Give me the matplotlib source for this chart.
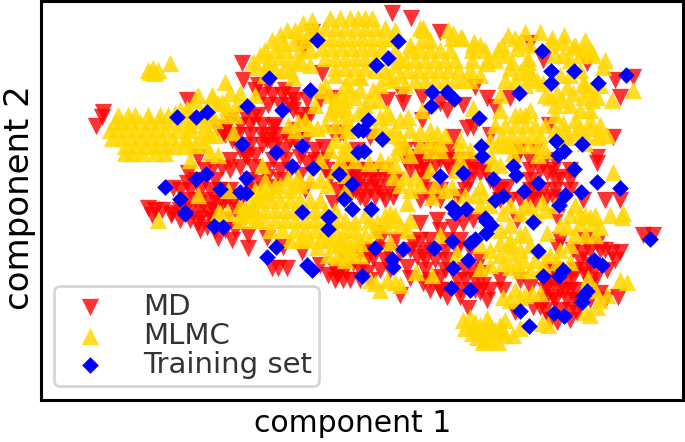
import matplotlib
matplotlib.use("Agg")
import matplotlib.pyplot as plt

plt.rcParams['font.family'] = ['DejaVu Sans']

x_label = "component 1"
y_label = "component 2"
series_names = ["MD", "MLMC", "Training set"]

md_points = [
(103,112),(102,117),(96,126),(242,63),(243,80),(187,100),(322,73),(303,48),(312,32),
(258,85),(268,85),(262,95),(272,95),(282,95),(292,95),(268,105),(280,105),(290,105),
(245,115),(258,115),(300,115),(310,115),(240,125),(250,125),(262,125),(275,125),
(225,135),(238,135),(250,135),(262,135),(272,135),(285,135),(250,145),(262,145),(272,145),(245,155),(255,155),
(223,133),(217,128),(230,120),(253,117),(273,127),(267,140),(290,140),(293,110),(320,100),(333,98),(307,100),
(247,157),(240,167),(253,167),(273,160),(280,170),(267,177),(273,187),(260,183),(300,157),(307,163),(323,147),(333,133),(340,133),
(330,177),(350,170),(337,190),(333,203),(213,167),(222,168),(188,173),(198,157),(187,183),(173,188),(180,190),(210,190),(210,203),
(230,197),(237,207),(222,203),(200,210),(148,208),(155,210),(172,213),(162,210),(208,213),
(152,215),(171,215),(198,223),(207,227),(218,238),(232,240),(248,235),(248,248),(213,220),(200,218),(267,238),(283,247),(272,268),(278,268),(287,268),(302,252),
(328,275),(337,275),(320,265),(343,280),(350,280),(367,273),(380,270),(373,258),(340,270),(353,263),(400,295),(410,278),(417,257),(423,283),(430,290),(440,290),
(447,297),(460,290),(460,297),(483,285),(487,300),(480,292),(468,308),(503,290),(515,312),(533,307),(540,307),(553,283),(560,290),(567,300),(553,297),(547,287),
(557,322),(577,313),(567,280),(573,277),(600,293),(605,300),(618,297),(612,253),(620,252),(607,270),(597,243),(583,253),(573,250),(557,247),(643,235),(653,235),
(423,253),(413,243),(430,250),(453,227),(463,223),(457,250),(440,230),(473,220),(557,217),(517,220),(380,233),(420,223),(437,220),(457,280),(473,270),(483,273),
(440,277),(530,287),(520,280),(500,280),(368,257),(407,267),(400,253),(387,250),(360,253),(392,13),(411,18),(440,32),(387,100),(402,95),(403,103),(422,97),(440,103),
(447,110),(463,105),(475,87),(487,98),(495,107),(510,98),(422,120),(467,128),(473,127),(490,135),(453,137),(530,43),(543,60),(587,63),(615,80),(633,77),(620,97),
(549,125),(613,137),(597,157),(597,163),(553,170),(547,173),(560,177),(620,200),(543,190),(553,197),(583,200),(357,177),(370,177),(363,187),(377,187),(383,193),(360,197),
(375,197),(393,197),(413,157),(427,157),(440,160),(447,163),(450,150),(473,163),(473,170),(417,163),(497,190),(507,187),(520,200),(537,190),(517,157),(530,160),(543,163),
(343,133),(370,137),(357,150),(480,173),(440,200),(457,197),(420,200),(343,183),(350,195),(345,165),(300,175),(305,190),(410,160),(425,170),(435,165),(460,170),(465,180),
(590,265),(585,275),(575,290),(565,290),(555,270),(545,300),(590,285),(580,305),(570,310),
(255,90),(285,90),(295,100),(305,120),(225,130),(295,130),
(232,140),(278,140),(295,140),(305,140),(240,150),(285,150),(300,150),(315,150),
(230,160),(285,160),(315,160),(325,160),(205,170),(230,170),(265,170),(290,170),(325,170),(340,170),
(195,180),(205,180),(215,180),(250,180),(280,180),(345,180),(190,190),(200,190),(220,190),(230,190),(250,190),(345,190),(355,190),
(190,200),(200,200),(215,200),(225,200),(240,200),(180,210),(190,210),(215,210),(235,210),(180,220),(190,220),(215,220),(225,220),
(200,230),(215,230),(225,230),(235,230),
(355,170),(365,170),(375,170),(385,170),(350,180),(360,180),(375,180),(385,180),(395,180),(350,190),(370,190),(395,190),(365,200),(385,200),
(405,150),(420,150),(435,150),(405,160),(420,160),(455,160),(465,160),(410,170),(420,170),(450,170),(465,170),(485,170),(425,180),(470,180),(490,180),
(430,190),(440,190),(465,190),(500,190),(430,200),(500,200),(510,200),(530,200),
(380,240),(395,240),(420,240),(430,240),(445,240),(460,240),(365,250),(375,250),(410,250),(445,250),(470,250),
(345,260),(355,260),(385,260),(425,260),(435,260),(445,260),(480,260),(335,270),(345,270),(360,270),(390,270),(425,270),(445,270),(465,270),
(335,280),(360,280),(370,280),(430,280),(465,280),(475,280),(440,290),(475,290),(490,290),
(550,270),(575,270),(585,270),(595,270),(545,280),(558,280),(595,280),(545,290),(570,290),(555,300),(575,300),(590,300),(560,310),(545,310),(550,320),(570,320),
(560,240),(585,240),(590,250),(600,250),(605,250),(580,260),(615,260),
(530,170),(540,170),(570,170),(530,180),(555,180),(570,180),(530,190),(555,190),(570,190),(535,200),(545,200),(560,200),(605,200),(520,150),(535,150),(555,160),
]

mlmc_points = [
(148,70),(153,68),(158,70),(150,72),(155,73),(170,63),
(118,115),(128,115),(135,115),(148,115),(160,115),(168,115),
(115,122),(122,122),(130,122),(140,122),(150,122),(160,122),(172,122),(185,122),
(110,130),(118,130),(125,130),(135,130),(145,130),(155,130),(165,130),(178,130),(190,130),
(112,138),(122,138),(132,138),(142,138),(152,138),(162,138),(172,138),(185,138),(200,138),
(125,146),(135,146),(145,146),(155,146),(165,146),(175,146),(185,146),
(125,153),(132,153),(142,153),(155,153),(165,153),
(208,132),(205,125),(210,115),(188,110),(195,100),(218,103),(212,95),
(225,82),(198,95),(212,98),(222,102),(230,93),(240,93),(227,107),(255,95),(237,103),(187,108),(175,113),(208,135),(187,140),(210,153),(218,155),(190,160),(233,132),
(288,125),(298,122),(310,128),(317,128),(330,113),(345,100),(325,85),(260,55),(253,62),(267,63),(257,67),(272,40),(287,30),(283,43),(293,43),(303,23),(312,20),
(280,57),(290,60),(297,63),(283,70),(293,77),
(330,18),(340,18),(350,18),(358,18),(365,18),(372,18),
(325,28),(335,28),(345,28),(355,28),(365,28),(375,28),(385,28),
(322,38),(332,38),(342,38),(352,38),(362,38),(372,38),(382,38),(392,38),
(322,48),(332,48),(342,48),(352,48),(362,48),(372,48),(382,48),
(325,58),(335,58),(345,58),(355,58),(365,58),(375,58),
(335,68),(345,68),(355,68),(365,68),(350,77),(360,77),
(422,40),(430,40),(412,50),(420,50),(430,50),(440,50),(450,50),
(405,60),(415,60),(425,60),(435,60),(445,60),(455,60),
(408,70),(418,70),(428,70),(438,70),(448,70),(458,70),
(415,80),(425,80),(435,80),(445,80),(455,80),(463,80),
(420,28),(423,30),(448,30),(452,38),(461,37),(474,42),(480,45),(472,50),(485,50),(487,60),(508,35),(502,45),(515,38),(520,42),(525,32),(540,32),(517,48),(530,45),(498,50),
(510,68),(520,72),(512,62),(528,58),(528,68),(529,72),(551,42),(564,35),(575,45),(585,40),(563,55),(580,55),(590,50),(592,55),(605,60),(585,85),
(603,67),(612,100),(633,90),(592,52),(583,50),(573,47),(563,42),(552,38),(537,80),(532,77),(543,83),(550,97),(562,100),(573,93),(583,97),(592,100),(597,97),(583,83),(557,93),(567,87),(580,110),
(515,115),(520,115),(525,115),(505,125),(515,125),(525,125),(535,125),(502,135),(512,135),(522,135),(532,135),(540,135),(498,145),(508,145),(518,145),(528,145),(538,145),(545,150),(538,155),
(563,123),(580,127),(590,128),(600,125),(607,135),(575,133),(585,135),(567,137),(597,137),(613,172),(623,213),(622,217),
(437,133),(430,140),(440,143),(420,132),(400,137),(398,147),(397,153),(387,112),(380,117),(390,117),(383,127),(408,117),(422,110),(473,108),(500,95),(528,62),
(460,150),(460,160),(369,163),(388,163),(393,177),(405,177),(415,178),(430,170),(452,187),(480,187),(483,195),(492,163),(503,145),(513,153),(407,203),(432,197),(390,213),
(503,213),(520,213),(530,207),(542,202),(580,213),(590,217),(347,153),(350,127),(358,113),(350,90),(360,77),(387,77),(393,80),(373,90),(472,60),(487,63),(462,38),(453,33),(423,28),(473,45),
(262,190),(275,190),(290,190),(345,190),
(250,200),(260,200),(270,200),(280,200),(290,200),(300,200),(310,200),(320,200),
(245,210),(255,210),(265,210),(275,210),(285,210),(295,210),(305,210),(315,210),(325,210),(335,210),
(255,220),(265,220),(275,220),(285,220),(295,220),(305,220),(315,220),(325,220),(335,220),(345,220),
(270,230),(282,230),(295,230),(305,230),(315,230),(325,230),(335,230),(345,230),(355,230),
(290,240),(300,240),(310,240),(320,240),(330,240),(340,240),
(355,222),(377,222),(390,220),(407,230),(350,247),(360,243),(343,253),(352,253),(390,242),(375,283),(387,280),(395,282),(416,272),(432,275),(440,235),(457,253),(480,268),(490,265),
(500,243),(510,240),(510,253),(503,263),(517,263),(523,260),(510,267),(525,233),(547,233),(567,227),(580,223),(593,223),(600,227),(570,245),(543,265),(557,262),(570,262),(588,278),
(607,295),(620,280),(627,282),(503,297),(520,297),(532,293),(540,293),(597,307),(585,312),(542,323),(548,325),
(463,320),(470,317),(473,327),(487,318),(505,320),(477,337),(483,342),(490,340),(498,342),(495,330),(485,330),(513,335),(472,333),
(158,220),(220,213),(240,220),(257,220),(302,238),(317,247),(328,237),(337,257),(328,255),
(198,195),(228,190),(218,212),(227,212),(262,165),(288,178),(298,177),(320,180),(327,185),(340,160),(348,150),(257,200),(267,193),(253,207),
(347,130),(338,110),(355,97),(333,107),(315,105),
(300,35),(295,30),(310,30),(305,40),(315,30),(300,50),(310,50),(265,50),(275,50),(270,60),(285,50),(280,35),(300,60),(310,65),(275,70),(265,75),(290,70),
(395,30),(395,50),(395,65),(385,70),(375,70),(380,85),(370,100),(360,90),(345,85),(335,75),(340,95),(330,95),(320,90),(335,125),(325,125),(305,120),(295,130),(345,115),(365,105),(378,100),
(400,60),(400,75),(405,85),(410,45),(470,70),(470,80),(480,75),(495,60),(505,55),(505,80),(515,80),(525,85),(555,55),(570,60),(580,70),(560,75),(545,95),(555,105),(570,105),(590,90),(600,85),(590,110),(570,75),
(555,115),(565,130),(575,120),(590,120),(600,135),(585,143),(555,130),(545,125),(530,110),(500,110),(495,125),(490,140),
(400,120),(395,130),(390,135),(410,130),(405,145),(430,130),(445,135),(430,150),(440,150),(420,145),(410,155),(395,165),(380,160),(460,140),(455,170),(470,150),(490,155),(500,165),(510,145),
(365,110),(375,130),(345,145),(355,160),(330,150),(320,160),(310,180),(335,170),(345,175),
(400,185),(410,190),(420,185),(435,185),(445,190),(455,205),(465,195),(475,195),(490,205),(480,205),(510,205),(525,205),(535,215),(545,210),(555,205),(575,205),(585,215),(595,215),(570,215),(560,225),(575,235),(585,235),(595,235),(610,215),
(385,215),(395,215),(370,220),(365,215),(400,225),(410,220),(385,225),(375,230),(355,240),(365,235),(345,240),(340,245),(360,255),(345,260),(335,245),(350,255),
(500,230),(510,225),(520,235),(500,255),(490,250),(480,245),(520,250),(530,245),(535,260),(510,245),(520,270),(530,270),(540,250),(550,255),(560,250),
(380,290),(370,280),(400,285),(510,300),(515,290),(525,295),(600,300),(590,315),(595,290),
(475,322),(480,325),(490,325),(500,330),(505,335),(465,328),(490,333),(520,328),(500,325),(485,340),
(190,125),(195,120),(200,115),(215,120),(225,115),(235,115),(215,135),(180,110),(195,145),(205,145),
(295,185),(280,185),(300,185),(265,180),(275,185),(255,190),(240,205),(240,215),(250,215),
(345,150),(335,140),(345,125),(335,100),(345,108),
]

train_points = [
(317,40),(269,78),(310,90),(177,117),(196,117),(207,112),(247,106),(282,110),(242,144),(276,152),(302,146),(292,166),(313,168),(339,174),(352,184),(344,199),(352,209),
(206,174),(196,179),(246,178),(220,189),(165,187),(180,199),(240,192),(246,193),(185,212),(302,212),(329,217),(358,130),(358,152),
(398,41),(388,58),(376,65),(432,92),(447,92),(454,99),(431,106),(479,118),(368,120),(363,130),(382,139),(364,151),(542,51),(551,71),(551,83),(574,71),(598,83),(626,75),(519,93),
(481,146),(482,156),(556,141),(582,144),(564,151),(558,155),(574,169),(597,182),(620,188),(513,166),(516,175),(538,183),(524,191),(493,179),(463,173),(440,176),(581,192),(565,195),(559,205),
(503,196),(495,200),(371,209),(452,207),(466,209),(455,213),(485,218),
(486,221),(491,225),(486,233),(533,222),(650,239),(375,248),(403,249),(434,248),(452,241),(470,243),(475,239),(538,251),(468,260),(392,259),(393,267),(453,268),(362,276),(543,276),
(563,270),(559,276),(594,260),(602,265),(451,288),(470,290),(587,291),(583,296),(582,302),(520,311),(554,313),(564,316),(529,326),
(185,214),(214,226),(223,227),(328,217),(328,229),(276,247),(267,257),(307,265),(312,270),
]

W, H = 685, 442
fig = plt.figure(figsize=(W / 100, H / 100), dpi=100)
L, R, T, B = 41, 683, 1, 400
ax = fig.add_axes([L / W, 1 - B / H, (R - L) / W, (B - T) / H])
ax.set_xlim(L, R)
ax.set_ylim(B, T)
ax.set_xticks([])
ax.set_yticks([])
for s in ax.spines.values():
    s.set_linewidth(2.2)
    s.set_color("black")

ax.scatter(*zip(*md_points), marker="v", s=155, c="red", alpha=0.8, linewidths=0, label=series_names[0], zorder=2)
ax.scatter(*zip(*mlmc_points), marker="^", s=155, c="gold", alpha=0.85, linewidths=0, label=series_names[1], zorder=3)
ax.scatter(*zip(*train_points), marker="D", s=72, c="blue", linewidths=0, label=series_names[2], zorder=4)

ax.set_xlabel(x_label, fontsize=21.5)
ax.xaxis.set_label_coords((353 - L) / (R - L), -(423 - B) / (B - T), transform=ax.transAxes)
ax.xaxis.label.set_va("center")
ax.set_ylabel(y_label, fontsize=24.5)
ax.yaxis.set_label_coords(-(L - 19) / (R - L), 1 - (198 - T) / (B - T), transform=ax.transAxes)
ax.yaxis.label.set_va("center")

leg = ax.legend(loc="lower left", bbox_to_anchor=(0.0202, 0.035), fontsize=21, frameon=True,
                framealpha=0.8, fancybox=True, edgecolor="0.8", borderpad=0.25, labelspacing=0.03,
                handletextpad=0.8, borderaxespad=0.0, scatterpoints=1)
leg.get_frame().set_linewidth(2)
for t in leg.get_texts():
    t.set_color("#333333")

fig.savefig("out.png", dpi=100)
